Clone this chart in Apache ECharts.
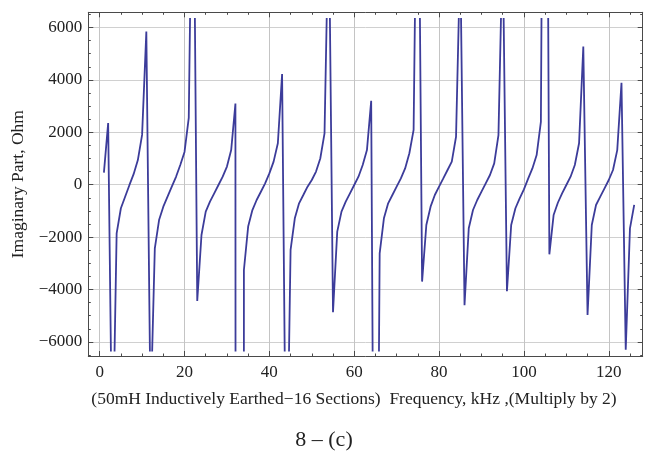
<!DOCTYPE html>
<html><head><meta charset="utf-8">
<script src="https://cdn.jsdelivr.net/npm/echarts@6/dist/echarts.min.js"></script>
<style>html,body{margin:0;padding:0;background:#fff}#c{width:648px;height:461px}</style>
</head><body><div id="c"></div><script>
// Frequency samples (kHz index) and imaginary part (Ohm)
const freqStart = 1;
const imagOhm = [
  460, 2350, -11000, -1860, -900, -460, -20, 400, 940, 1900,
  5850, -8700, -2430, -1350, -840, -460, -76, 300, 750, 1250,
  2550, 15000, -4440, -1920, -1030, -650, -330, -13, 305, 690,
  1320, 3100, -400000, -3256, -1600, -970, -585, -270, 50, 430,
  880, 1580, 4220, -13000, -2490, -1285, -712, -395, -76, 178,
  500, 1000, 1960, 10500, -4870, -1794, -1030, -650, -330, -13,
  305, 750, 1320, 3200, -25000, -2620, -1285, -712, -395, -76,
  240, 620, 1200, 2090, 16000, -3700, -1540, -840, -395, -76,
  240, 560, 880, 1830, 8800, -4600, -1666, -967, -585, -267,
  51, 369, 814, 1895, 9400, -4070, -1540, -900, -520, -180,
  230, 620, 1130, 2400, 30000, -2660, -1160, -690, -330, -13,
  305, 750, 1580, 5270, -4970, -1540, -776, -458, -140, 178,
  560, 1320, 3890, -6300, -1666, -770
];
const xRange = [-2.68, 128.0];      // frame extent (x)
const yFrame = [-6540, 6580];       // frame extent (y)
const yClip = [-6330, 6330];        // plot range where the curve is clipped
const xTitle = '(50mH Inductively Earthed\u221216 Sections)  Frequency, kHz ,(Multiply by 2)';
const yTitle = 'Imaginary Part, Ohm';
const caption = '8 \u2013 (c)';

const data = imagOhm.map((v, i) => [freqStart + i, v]);

const FONT = 'Liberation Serif';
const frameColor = '#4a4a4a';
const W = 648, H = 461;
const gL = 88.3, gR = W - 642.7, gT = 12.3, gB = H - 356;
const plotH = 356 - 12.3;
const pxPer = plotH / (yFrame[1] - yFrame[0]);
const innerTop = gT + (yFrame[1] - yClip[1]) * pxPer;
const innerBottom = gB + (yClip[0] - yFrame[0]) * pxPer;

const fmtY = v => (v < 0 ? '\u2212' + Math.abs(v) : String(v));

const tickCommon = { show: true, inside: true, length: 5, lineStyle: { color: frameColor, width: 1 } };
const minorCommon = { show: true, splitNumber: 4, length: 2.5, lineStyle: { color: frameColor, width: 1 } };
const lineCommon = { show: true, onZero: false, lineStyle: { color: frameColor, width: 1 } };

const chart = echarts.init(document.getElementById('c'), null, { renderer: 'canvas' });
chart.setOption({
  animation: false,
  backgroundColor: '#ffffff',
  title: {
    text: caption, left: 'center', top: 424,
    textStyle: { fontFamily: FONT, fontSize: 22, fontWeight: 'normal', color: '#222' }
  },
  grid: [
    { left: gL, right: gR, top: gT, bottom: gB, containLabel: false },
    { left: gL, right: gR, top: innerTop, bottom: innerBottom, containLabel: false }
  ],
  xAxis: [
    {
      type: 'value', gridIndex: 0, position: 'bottom', min: xRange[0], max: xRange[1], splitNumber: 6,
      axisLine: lineCommon, axisTick: tickCommon, minorTick: minorCommon,
      axisLabel: { show: true, showMinLabel: false, showMaxLabel: false, margin: 8,
        fontFamily: FONT, fontSize: 17, color: '#222' },
      splitLine: { show: true, lineStyle: { color: '#c4c4c4', width: 1 } },
      name: xTitle, nameLocation: 'middle', nameGap: 34,
      nameTextStyle: { fontFamily: FONT, fontSize: 17.5, color: '#222', padding: [0, 23, 0, 0] }
    },
    {
      type: 'value', gridIndex: 0, position: 'top', min: xRange[0], max: xRange[1], splitNumber: 6,
      axisLine: lineCommon, axisTick: tickCommon, minorTick: minorCommon,
      axisLabel: { show: false }, splitLine: { show: false }
    },
    {
      type: 'value', gridIndex: 1, min: xRange[0], max: xRange[1], show: false
    }
  ],
  yAxis: [
    {
      type: 'value', gridIndex: 0, position: 'left', min: yFrame[0], max: yFrame[1], splitNumber: 6,
      axisLine: lineCommon, axisTick: tickCommon, minorTick: minorCommon,
      axisLabel: { show: true, showMinLabel: false, showMaxLabel: false, margin: 6,
        fontFamily: FONT, fontSize: 17, color: '#222', formatter: fmtY },
      splitLine: { show: true, lineStyle: { color: '#d0d0d0', width: 1 } },
      name: yTitle, nameLocation: 'middle', nameGap: 58, nameRotate: 90,
      nameTextStyle: { fontFamily: FONT, fontSize: 17.5, color: '#222' }
    },
    {
      type: 'value', gridIndex: 0, position: 'right', min: yFrame[0], max: yFrame[1], splitNumber: 6,
      axisLine: lineCommon, axisTick: tickCommon, minorTick: minorCommon,
      axisLabel: { show: false }, splitLine: { show: false }
    },
    {
      type: 'value', gridIndex: 1, min: yClip[0], max: yClip[1], show: false
    }
  ],
  series: [{
    type: 'line', xAxisIndex: 2, yAxisIndex: 2, data: data,
    showSymbol: false, symbol: 'none', clip: true,
    lineStyle: { color: '#3c3c9a', width: 1.8 },
    emphasis: { disabled: true }
  }]
});
</script></body></html>
